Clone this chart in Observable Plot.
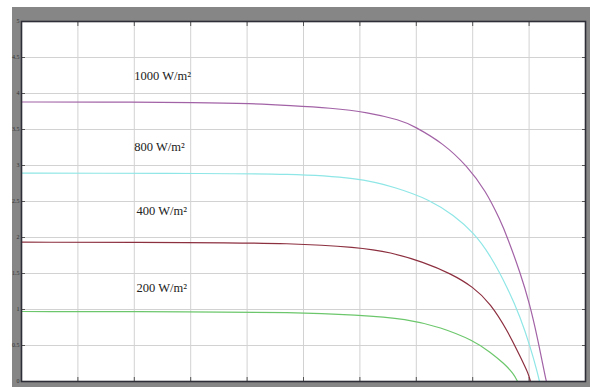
<!DOCTYPE html>
<html><head><meta charset="utf-8">
<script src="https://cdn.jsdelivr.net/npm/d3@7"></script>
<script src="https://cdn.jsdelivr.net/npm/@observablehq/plot@0.6"></script>
<style>
html,body{margin:0;padding:0;background:#fff;width:590px;height:387px;overflow:hidden}
#wrap{position:relative;width:590px;height:387px}
#frame{position:absolute;left:12px;top:7px;width:578px;height:380px;background:#868686}
#chart{position:absolute;left:0;top:0}
</style></head><body><div id="wrap"><div id="frame"></div><div id="chart"></div></div>
<script>
// Voltage (x) and current (y) samples for each irradiance curve
const series = ["1000 W/m²", "800 W/m²", "400 W/m²", "200 W/m²"];
const v1000 = [0, 3.5, 7.93, 10.15, 11.92, 13.7, 15.34, 16.8, 17.38, 18.71, 19.77, 20.57, 21.23, 21.54, 22.12, 22.52, 22.87, 23.23, 23.27];
const i1000 = [3.882, 3.882, 3.875, 3.861, 3.833, 3.799, 3.74, 3.63, 3.55, 3.306, 2.986, 2.653, 2.236, 2.0, 1.5, 1.083, 0.611, 0.042, 0];
const v800 = [0, 3.5, 7.93, 11.92, 14.89, 16.58, 18.13, 19.15, 20.04, 20.79, 21.54, 22.12, 22.56, 22.87, 22.96];
const i800 = [2.893, 2.893, 2.889, 2.885, 2.83, 2.70, 2.52, 2.31, 2.07, 1.75, 1.306, 0.889, 0.472, 0.125, 0];
const v400 = [0, 7.93, 11.92, 14.89, 16.36, 17.82, 19.02, 20.04, 20.79, 21.54, 22.12, 22.47, 22.56];
const i400 = [1.935, 1.931, 1.921, 1.865, 1.796, 1.657, 1.5, 1.31, 1.083, 0.708, 0.338, 0.111, 0];
const v200 = [0, 7.93, 11.92, 14.89, 17.11, 18.57, 20.04, 20.79, 21.37, 21.81, 21.99];
const i200 = [0.972, 0.968, 0.963, 0.926, 0.871, 0.754, 0.569, 0.405, 0.256, 0.111, 0];
const colors = ["#a262a6", "#8fe6e6", "#8c2f3f", "#6cc76c"];

// Annotation labels
const labelX = [5.0, 5.0, 5.1, 5.1];
const labelY = [4.24, 3.26, 2.37, 1.3];

// Ticks
const xTicks = [0, 2.5, 5, 7.5, 10, 12.5, 15, 17.5, 20, 22.5, 25];
const yTicks = [0, 0.5, 1, 1.5, 2, 2.5, 3, 3.5, 4, 4.5, 5];
const yLabels = ["0", "0.5", "1", "1.5", "2", "2.5", "3", "3.5", "4", "4.5", "5"];

const vs = [v1000, v800, v400, v200];
const is = [i1000, i800, i400, i200];
const rows = [];
series.forEach((s, k) => vs[k].forEach((v, j) => rows.push({s, v, i: is[k][j]})));
const labels = series.map((s, k) => ({s, x: labelX[k], y: labelY[k]}));
const yl = yTicks.map((t, k) => ({t, l: yLabels[k]}));

const chart = Plot.plot({
  width: 590, height: 387,
  marginLeft: 21, marginTop: 21, marginRight: 5, marginBottom: 6,
  x: {domain: [0, 25], axis: null},
  y: {domain: [0, 5], axis: null},
  color: {domain: series, range: colors},
  style: {background: "transparent", fontFamily: "Liberation Serif"},
  marks: [
    Plot.frame({fill: "white"}),
    Plot.gridX(xTicks, {stroke: "#d2d2d2", strokeOpacity: 1}),
    Plot.gridY(yTicks, {stroke: "#d2d2d2", strokeOpacity: 1}),
    Plot.axisX(xTicks, {anchor: "bottom", tickSize: -4, tickFormat: () => "", stroke: "#555"}),
    Plot.axisX(xTicks, {anchor: "top", tickSize: -4, tickFormat: () => "", stroke: "#555"}),
    Plot.axisY(yTicks, {anchor: "left", tickSize: -4, tickFormat: () => "", stroke: "#555"}),
    Plot.axisY(yTicks, {anchor: "right", tickSize: -4, tickFormat: () => "", stroke: "#555"}),
    Plot.text(yl, {x: 0, y: "t", text: "l", dx: -2, textAnchor: "end", fontSize: 6, fill: "#333"}),
    Plot.line(rows, {x: "v", y: "i", z: "s", stroke: "s", strokeWidth: 1.2, curve: "basis"}),
    Plot.text(labels, {x: "x", y: "y", text: "s", textAnchor: "start", fontSize: 12.5, fill: "#222"}),
    Plot.frame({stroke: "#2e2e38", strokeWidth: 1.6})
  ]
});
document.getElementById("chart").appendChild(chart);
</script>
</body></html>
